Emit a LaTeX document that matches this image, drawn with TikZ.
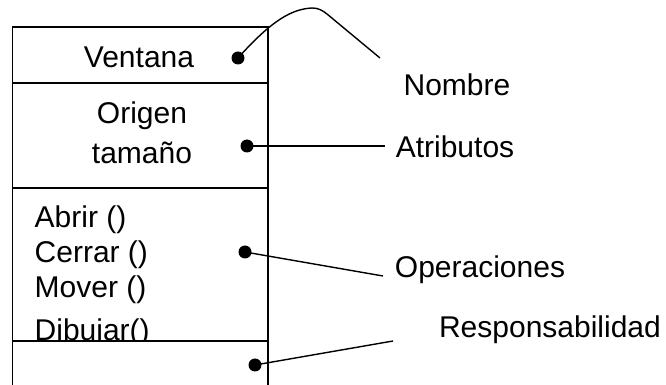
\documentclass[tikz,border=0pt]{standalone}
\usepackage{fontspec}
\setmainfont{Liberation Sans}
\begin{document}
\begin{tikzpicture}[x=0.5pt, y=-0.5pt, line width=0.7pt,
		punto/.style={circle, fill, inner sep=0pt, minimum size=6.5pt},
		rotulo/.style={inner sep=0pt, font=\fontsize{15}{18}\selectfont}]
		\useasboundingbox (0,0) rectangle (666,385);
		\coordinate (A) at (12.5, 385);
		\coordinate (B) at (12.5, 27);
		\coordinate (C) at (268, 27);
		\coordinate (D) at (268, 385);
		\coordinate (nE) at (380, 58);	% free ends of the leaders
		\coordinate (aE) at (385, 146);
		\coordinate (oE) at (383, 276);
		\coordinate (rE) at (393, 341);
		
		\draw (A) -- (B) -- (C) -- (D);
		\draw (12.5, 83) -- (268, 83);
		\draw (12.5, 188) -- (268, 188);
		\draw (12.5, 341) -- (268, 341);
		
		\node[rotulo] (ventana) at (139, 57) {Ventana};
		\node[rotulo] (origen) at (142, 116) {Origen};
		\node[rotulo] (tamano) at (142, 153) {tamaño};
		\begin{scope}
			\clip (12.5, 188) rectangle (268, 341);
			\node[rotulo, anchor=west] (abrir) at (34, 220) {Abrir ()};
			\node[rotulo, anchor=west] (cerrar) at (34, 255) {Cerrar ()};
			\node[rotulo, anchor=west] (mover) at (34, 290) {Mover ()};
			\node[rotulo, anchor=west] (dibujar) at (34, 333) {Dibujar()};
		\end{scope}
		
		\node[punto] (pV) at (238, 58) {};
		\node[punto] (pA) at (247, 146) {};
		\node[punto] (pO) at (245, 252) {};
		\node[punto] (pR) at (255, 365) {};
		
		\draw (pV.center) .. controls (272, 20) and (292, 9) .. (312, 8)
			.. controls (318, 8) and (322, 10) .. (327, 14) -- (nE);
		\draw (pA.center) -- (aE);
		\draw (pO.center) -- (oE);
		\draw (pR.center) -- (rE);
		
		\node[rotulo] (nombre) at (457, 85) {Nombre};
		\node[rotulo] (atributos) at (455, 147) {Atributos};
		\node[rotulo] (operaciones) at (480, 270) {Operaciones};
		\node[rotulo] (resp) at (550, 330) {Responsabilidad};
	\end{tikzpicture}
\end{document}
